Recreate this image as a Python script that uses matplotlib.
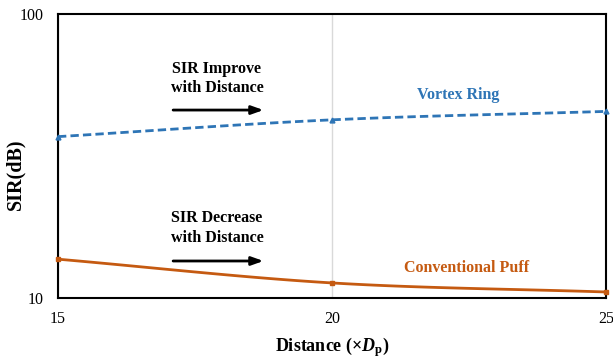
import numpy as np
import matplotlib
matplotlib.use("Agg")
import matplotlib.pyplot as plt

# data
distance = [15, 20, 25]
vortex_ring = [37.0, 42.4, 45.4]
conv_puff = [13.7, 11.3, 10.5]

blue = '#2E75B6'
orange = '#C55A11'

plt.rcParams['font.family'] = ['Liberation Serif', 'DejaVu Serif']
plt.rcParams['mathtext.fontset'] = 'custom'
plt.rcParams['mathtext.rm'] = 'Liberation Serif:bold'
plt.rcParams['mathtext.it'] = 'Liberation Serif:bold:italic'


# Excel-like smoothed line (Catmull-Rom through the points, in log space)
def smooth(x, y, n=40):
    x = np.asarray(x, float)
    ly = np.log10(y)
    px = np.concatenate([[2 * x[0] - x[1]], x, [2 * x[-1] - x[-2]]])
    py = np.concatenate([[2 * ly[0] - ly[1]], ly, [2 * ly[-1] - ly[-2]]])
    xs, ys = [], []
    for i in range(1, len(px) - 2):
        t = np.linspace(0, 1, n)
        for arr, out in ((px, xs), (py, ys)):
            p0, p1, p2, p3 = arr[i - 1:i + 3]
            out.extend(0.5 * (2 * p1 + (-p0 + p2) * t + (2 * p0 - 5 * p1 + 4 * p2 - p3) * t ** 2
                              + (-p0 + 3 * p1 - 3 * p2 + p3) * t ** 3))
    return np.array(xs), 10 ** np.array(ys)


fig = plt.figure(figsize=(6.13, 3.6), dpi=100)
ax = fig.add_axes([0.0946, 0.1722, 0.8940, 0.7889])

sx, sy = smooth(distance, vortex_ring)
ax.plot(sx, sy, color=blue, lw=2, ls=(0, (3, 1.5)), zorder=3)
ax.plot(distance, vortex_ring, ls='none', marker='^', ms=3.5, color=blue, zorder=4, clip_on=False)

sx, sy = smooth(distance, conv_puff)
ax.plot(sx, sy, color=orange, lw=2, zorder=3)
ax.plot(distance, conv_puff, ls='none', marker='s', ms=3.5, color=orange, zorder=4, clip_on=False)

ax.set_yscale('log')
ax.set_xlim(15, 25)
ax.set_ylim(10, 100)
ax.set_xticks([15, 20, 25])
ax.set_xticklabels(['15', '20', '25'])
ax.set_yticks([10, 100])
ax.set_yticklabels(['10', '100'])
ax.yaxis.set_minor_locator(matplotlib.ticker.NullLocator())
ax.tick_params(length=0, labelsize=11.5, pad=9)
ax.tick_params(axis='y', pad=10)
ax.grid(axis='x', color='#D9D9D9', lw=1)
for s in ax.spines.values():
    s.set_linewidth(1.5)

ax.set_xlabel(r'Distance (×$D_{\rm p}$)', fontsize=13, fontweight='bold', labelpad=6)
ax.set_ylabel('SIR(dB)', fontsize=14.5, fontweight='bold')
ax.yaxis.set_label_coords(-0.060, 0.437)

arrow = dict(arrowstyle='-|>,head_length=0.7,head_width=0.25', color='black', lw=2)
ax.text(17.9, 59.3, 'SIR Improve\nwith Distance', ha='center', va='center',
        fontsize=11.5, fontweight='bold', linespacing=1.3)
ax.annotate('', xy=(18.8, 45.9), xytext=(17.05, 45.9), arrowprops=arrow)
ax.text(17.9, 17.6, 'SIR Decrease\nwith Distance', ha='center', va='center',
        fontsize=11.5, fontweight='bold', linespacing=1.3)
ax.annotate('', xy=(18.8, 13.5), xytext=(17.05, 13.5), arrowprops=arrow)

ax.text(22.3, 51.8, 'Vortex Ring', ha='center', va='center', color=blue,
        fontsize=11.5, fontweight='bold')
ax.text(22.46, 12.8, 'Conventional Puff', ha='center', va='center', color=orange,
        fontsize=11.5, fontweight='bold')

fig.savefig('out.png', dpi=100)
